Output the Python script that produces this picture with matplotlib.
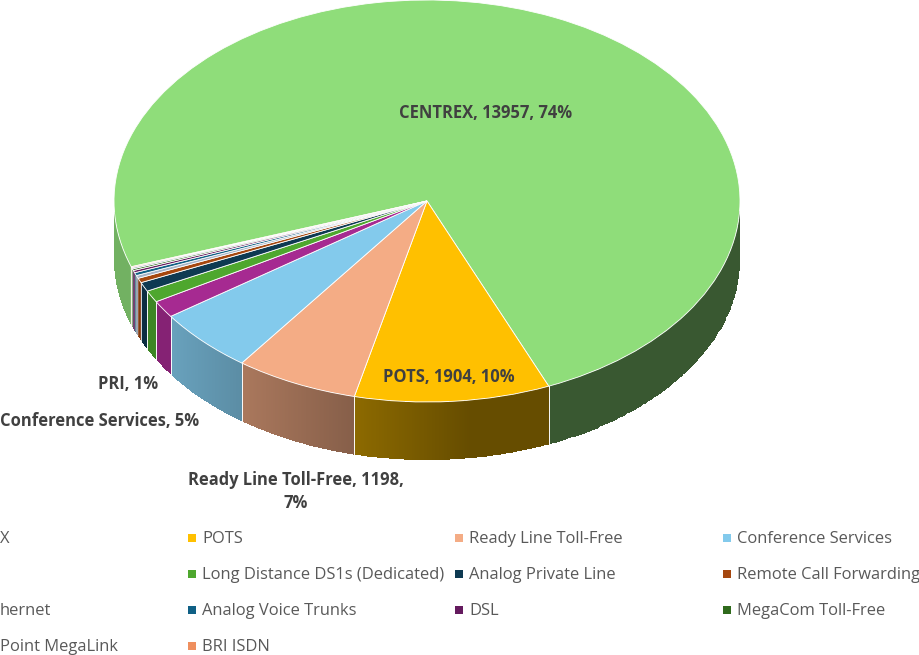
import numpy as np
import matplotlib
matplotlib.use("Agg")
import matplotlib.pyplot as plt
from matplotlib.colors import to_rgb

categories = ["CENTREX", "POTS", "Ready Line Toll-Free", "Conference Services", "PRI",
              "Long Distance DS1s (Dedicated)", "Analog Private Line", "Remote Call Forwarding",
              "Ethernet", "Analog Voice Trunks", "DSL", "MegaCom Toll-Free",
              "Point MegaLink", "BRI ISDN"]
values = [13957, 1904, 1198, 980, 260, 180, 140, 70, 45, 45, 35, 25, 20, 15]
colors = ["#8FDD7A", "#FFC000", "#F4AC85", "#83CAEC", "#A62A91", "#4EA72E", "#0E3A52", "#A5470F",
          "#A6B4C8", "#0F6085", "#641A5E", "#2F6A1C", "#7C8FA8", "#EF8F5E"]
# Legend text as visible in the picture: the first column is cut by the left edge.
legend_text = ["X", "POTS", "Ready Line Toll-Free", "Conference Services", None,
               "Long Distance DS1s (Dedicated)", "Analog Private Line", "Remote Call Forwarding",
               "hernet", "Analog Voice Trunks", "DSL", "MegaCom Toll-Free",
               "Point MegaLink", "BRI ISDN"]

W, H = 919, 655
CX, CY, RX, RY, DEPTH = 427, 201, 313, 201, 58
START_CLOCK = 250.9

def px(x, y):
    return (x - CX) / RX, (CY - y) / RY

fig = plt.figure(figsize=(W / 100, H / 100), dpi=100, facecolor="white")
ax = fig.add_axes([0, 0, 1, 1])

shade_x = [114, 170, 240, 355, 470, 740]
shade_v = [0.80, 0.80, 0.70, 0.55, 0.40, 0.40]

fractions = np.array(values) / np.sum(values)
bounds = START_CLOCK + np.concatenate([[0], np.cumsum(fractions) * 360])
d = DEPTH / RY
for i, c in enumerate(colors):
    a0, a1 = bounds[i], bounds[i + 1]
    thin = fractions[i] < 0.005
    for lo, hi in [(90, 270), (450, 630)]:
        l, h = max(a0, lo), min(a1, hi)
        if h <= l:
            continue
        t = np.radians(np.linspace(l, h, 120))
        xs, ys = np.sin(t), np.cos(t)
        X = np.vstack([xs, xs])
        Y = np.vstack([ys, ys - d])
        xc = (xs[:-1] + xs[1:]) / 2 * RX + CX
        s = np.interp(xc, shade_x, shade_v)
        C = np.array(to_rgb(c))[None, None, :] * s[None, :, None]
        ax.pcolormesh(X, Y, C, shading="flat", antialiased=False, edgecolors="none", zorder=1)
        for e in (l, h):
            if 90 < (e % 360) < 270:
                te = np.radians(e)
                ax.plot([np.sin(te)] * 2, [np.cos(te), np.cos(te) - d], color="white",
                        lw=0.3 if thin else 0.7, alpha=0.5 if thin else 0.8, zorder=2)

wedges, _ = ax.pie(values, colors=colors, startangle=90 - START_CLOCK, counterclock=False,
                   center=(0, 0), radius=1,
                   wedgeprops=dict(edgecolor="white", linewidth=0.6, zorder=3))
ax.set_aspect("auto")
ax.set_xlim((0 - CX) / RX, (W - CX) / RX)
ax.set_ylim((CY - H) / RY, (CY - 0) / RY)
ax.axis("off")

fam = ["Open Sans", "DejaVu Sans"]
labels = [("CENTREX, 13957, 74%", 486, 113), ("POTS, 1904, 10%", 449, 377), ("PRI, 1%", 128, 384),
          ("Conference Services, 5%", 100, 421), ("Ready Line Toll-Free, 1198,", 296, 480), ("7%", 296, 503)]
for s, x, y in labels:
    xx, yy = px(x, y)
    ax.text(xx, yy, s, ha="center", va="center", fontsize=11.9, fontweight="bold",
            color="#404040", family=fam, zorder=5)

col_x = [-78, 189, 456, 724]
row_y = [538, 574, 610, 646]
for i, (name, c) in enumerate(zip(legend_text, colors)):
    col, row = i % 4, i // 4
    if col == 0:
        if name:
            tx, ty = px(0, row_y[row] + 1)
            ax.text(tx, ty, name, ha="left", va="center", fontsize=11.9, color="#595959",
                    family=fam, zorder=5)
        continue
    mx, my = px(col_x[col] + 3, row_y[row])
    ax.scatter([mx], [my], marker="s", s=26, color=c, linewidths=0, zorder=5)
    tx, ty = px(col_x[col] + 13, row_y[row] + 1)
    ax.text(tx, ty, name, ha="left", va="center", fontsize=11.9, color="#595959",
            family=fam, zorder=5)

fig.savefig("out.png", dpi=100, facecolor="white")
